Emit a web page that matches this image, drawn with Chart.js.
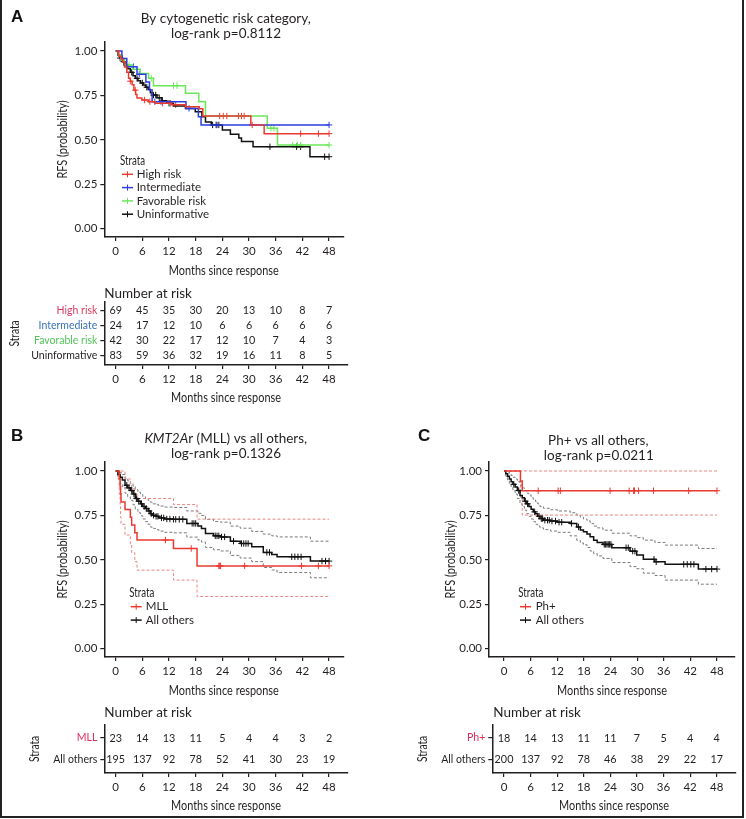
<!DOCTYPE html>
<html>
<head>
<meta charset="utf-8">
<title>RFS by strata</title>
<script src="https://cdn.jsdelivr.net/npm/chart.js@4.4.1/dist/chart.umd.min.js"></script>
<style>
  body { margin: 0; background: #fff; }
  #fig { position: relative; width: 746px; height: 819px; }
  #fig canvas { position: absolute; left: 0; top: 0; }
</style>
</head>
<body>
<div id="fig">
  <canvas id="kmA" width="746" height="819"></canvas>
  <canvas id="riskA" width="746" height="819"></canvas>
  <canvas id="kmB" width="746" height="819"></canvas>
  <canvas id="riskB" width="746" height="819"></canvas>
  <canvas id="kmC" width="746" height="819"></canvas>
  <canvas id="riskC" width="746" height="819"></canvas>
</div>
<script>
// ---- shared ticks
const months = [0, 6, 12, 18, 24, 30, 36, 42, 48];
const probTicks = [0, 0.25, 0.5, 0.75, 1];

// ---- panel A: cytogenetic risk (time in months, RFS after each step)
const highT = [0, 0.7, 1.2, 1.6, 2.0, 2.5, 2.9, 3.3, 3.7, 4.1, 4.5, 4.8, 5.9, 7.4, 8.9, 12.6, 15.7, 18.8, 19.6, 30.4, 33.4, 48];
const highS = [1, 0.97, 0.955, 0.94, 0.91, 0.88, 0.846, 0.83, 0.81, 0.78, 0.755, 0.735, 0.724, 0.715, 0.706, 0.697, 0.686, 0.675, 0.634, 0.584, 0.535, 0.535];
const highCens = [3.3, 4.4, 6.5, 7.7, 10.5, 12.3, 13.5, 23.4, 24.2, 25.0, 27.6, 28.3, 28.9, 30.7, 41.6, 45.6, 48];
const interT = [0, 1.4, 2.5, 4.8, 6.8, 7.6, 8.2, 15.8, 18.6, 19.2, 48];
const interS = [1, 0.958, 0.912, 0.869, 0.826, 0.78, 0.715, 0.677, 0.63, 0.584, 0.584];
const interCens = [1.5, 4.0, 5.3, 8.8, 10.2, 16.5, 22.8, 48];
const favT = [0, 0.6, 1.2, 2.0, 3.8, 5.5, 7.4, 8.5, 15.7, 18.7, 20.2, 34.1, 36.4, 48];
const favS = [1, 0.976, 0.95, 0.921, 0.897, 0.874, 0.846, 0.805, 0.762, 0.715, 0.634, 0.565, 0.471, 0.471];
const favCens = [3.0, 8.0, 13.0, 13.8, 34.9, 35.6, 39.8, 40.9, 41.6, 48];
const uninfT = [0, 0.5, 1.0, 1.5, 2.1, 2.7, 3.3, 3.9, 4.4, 5.0, 5.6, 6.2, 6.7, 7.3, 7.8, 8.2, 9.3, 10.4, 11.5, 13.0, 15.7, 17.9, 19.4, 20.2, 21.5, 24.0, 25.8, 27.7, 28.3, 30.9, 43.7, 48];
const uninfS = [1, 0.976, 0.96, 0.94, 0.92, 0.90, 0.88, 0.86, 0.846, 0.832, 0.82, 0.808, 0.796, 0.784, 0.765, 0.752, 0.737, 0.72, 0.706, 0.69, 0.677, 0.658, 0.63, 0.60, 0.584, 0.555, 0.531, 0.51, 0.49, 0.461, 0.405, 0.405];
const uninfCens = [1.0, 1.8, 2.4, 3.6, 4.8, 6.0, 7.0, 8.5, 9.0, 9.8, 10.5, 12.0, 21.8, 22.6, 23.2, 34.7, 40.7, 41.6, 47.0, 48];

// ---- panel B: KMT2Ar (MLL) vs all others
const mllT = [0, 0.8, 1.0, 1.1, 1.2, 2.1, 3.3, 3.6, 4.3, 4.8, 13.0, 18.3, 48];
const mllS = [1, 0.957, 0.913, 0.87, 0.826, 0.783, 0.739, 0.696, 0.652, 0.611, 0.564, 0.466, 0.466];
const mllUp = [1, 1, 1, 1, 1, 0.955, 0.925, 0.9, 0.872, 0.845, 0.811, 0.729, 0.729];
const mllLo = [1, 0.87, 0.80, 0.74, 0.70, 0.64, 0.59, 0.54, 0.49, 0.442, 0.386, 0.294, 0.294];
const mllCens = [11.2, 17.0, 23.2, 23.4, 23.6, 29.0, 41.8, 45.6, 48];
const othBT = [0, 0.5, 1.0, 1.5, 2.1, 2.7, 3.3, 3.9, 4.4, 5.0, 5.6, 6.1, 6.7, 7.3, 7.8, 8.2, 9.0, 9.7, 11.0, 12.8, 16.0, 18.5, 19.3, 20.2, 22.0, 23.6, 25.8, 28.0, 30.6, 33.2, 35.1, 36.3, 43.8, 48];
const othBS = [1, 0.98, 0.965, 0.95, 0.92, 0.905, 0.89, 0.87, 0.845, 0.83, 0.815, 0.80, 0.789, 0.775, 0.76, 0.751, 0.745, 0.736, 0.73, 0.728, 0.705, 0.69, 0.677, 0.648, 0.635, 0.629, 0.605, 0.592, 0.573, 0.542, 0.53, 0.517, 0.493, 0.493];
const othBUp = [1, 1, 0.99, 0.98, 0.96, 0.945, 0.93, 0.915, 0.895, 0.88, 0.868, 0.855, 0.845, 0.835, 0.825, 0.815, 0.81, 0.803, 0.797, 0.795, 0.775, 0.762, 0.75, 0.728, 0.716, 0.712, 0.69, 0.678, 0.66, 0.645, 0.635, 0.629, 0.605, 0.605];
const othBLo = [1, 0.955, 0.93, 0.91, 0.875, 0.855, 0.835, 0.81, 0.785, 0.765, 0.748, 0.73, 0.715, 0.70, 0.685, 0.677, 0.67, 0.662, 0.655, 0.652, 0.628, 0.612, 0.60, 0.57, 0.557, 0.55, 0.525, 0.51, 0.49, 0.457, 0.443, 0.429, 0.399, 0.399];
const othBCens = [2.5, 3.0, 3.6, 4.1, 4.7, 5.2, 5.8, 6.4, 6.9, 7.5, 8.0, 8.5, 9.1, 9.5, 10.3, 10.8, 11.5, 12.2, 13.0, 13.5, 14.3, 15.1, 17.2, 17.6, 18.0, 22.4, 22.8, 23.2, 23.8, 24.5, 26.5, 28.3, 28.8, 29.3, 29.8, 34.0, 34.6, 39.6, 40.3, 41.0, 41.7, 46.4, 47.2, 48];

// ---- panel C: Ph+ vs all others
const phT = [0, 3.7, 4.1, 48];
const phS = [1, 0.944, 0.889, 0.889];
const phUp = [1, 1, 1, 1];
const phLo = [1, 0.85, 0.752, 0.752];
const phCens = [7.7, 12.2, 12.7, 23.9, 28.2, 29.2, 29.4, 30.3, 33.7, 41.6, 48];
const othCT = [0, 0.4, 0.8, 1.2, 1.6, 2.0, 2.5, 3.0, 3.6, 4.1, 4.6, 5.1, 5.6, 6.1, 6.6, 7.1, 7.6, 8.1, 8.9, 10.5, 12.0, 14.9, 16.4, 17.2, 17.9, 18.7, 19.4, 20.2, 21.0, 22.3, 24.3, 28.4, 29.9, 31.4, 34.0, 36.3, 43.8, 48];
const othCS = [1, 0.985, 0.97, 0.955, 0.94, 0.925, 0.91, 0.89, 0.862, 0.85, 0.83, 0.815, 0.80, 0.785, 0.77, 0.76, 0.745, 0.732, 0.723, 0.718, 0.712, 0.705, 0.685, 0.668, 0.658, 0.645, 0.63, 0.61, 0.598, 0.587, 0.568, 0.549, 0.527, 0.503, 0.489, 0.475, 0.448, 0.448];
const othCUp = [1, 1, 0.995, 0.985, 0.975, 0.965, 0.955, 0.94, 0.92, 0.905, 0.89, 0.875, 0.865, 0.85, 0.838, 0.828, 0.815, 0.80, 0.79, 0.782, 0.775, 0.765, 0.75, 0.74, 0.73, 0.72, 0.705, 0.69, 0.68, 0.667, 0.65, 0.635, 0.625, 0.611, 0.598, 0.583, 0.564, 0.564];
const othCLo = [1, 0.97, 0.95, 0.93, 0.91, 0.89, 0.87, 0.845, 0.815, 0.80, 0.78, 0.76, 0.745, 0.73, 0.715, 0.70, 0.69, 0.68, 0.67, 0.662, 0.655, 0.635, 0.61, 0.595, 0.585, 0.57, 0.55, 0.535, 0.522, 0.508, 0.485, 0.462, 0.45, 0.425, 0.412, 0.386, 0.363, 0.363];
const othCCens = [2.2, 3.3, 4.8, 5.3, 6.9, 7.9, 8.4, 8.7, 9.2, 9.8, 10.2, 10.8, 11.6, 12.4, 13.0, 15.2, 16.8, 22.6, 22.9, 23.2, 23.5, 23.8, 24.1, 27.5, 28.0, 29.0, 29.5, 33.8, 34.3, 40.5, 41.3, 42.1, 42.8, 45.5, 46.8, 48];

// ---- number at risk tables
const strataA = ["High risk", "Intermediate", "Favorable risk", "Uninformative"];
const riskHigh = [69, 45, 35, 30, 20, 13, 10, 8, 7];
const riskInter = [24, 17, 12, 10, 6, 6, 6, 6, 6];
const riskFav = [42, 30, 22, 17, 12, 10, 7, 4, 3];
const riskUninf = [83, 59, 36, 32, 19, 16, 11, 8, 5];
const strataB = ["MLL", "All others"];
const riskMll = [23, 14, 13, 11, 5, 4, 4, 3, 2];
const riskOthB = [195, 137, 92, 78, 52, 41, 30, 23, 19];
const strataC = ["Ph+", "All others"];
const riskPh = [18, 14, 13, 11, 11, 7, 5, 4, 4];
const riskOthC = [200, 137, 92, 78, 46, 38, 29, 22, 17];

// ---- look
const SANS = 'Lato, "Noto Sans", sans-serif';
const INK = "#231f20";
const RED = "#ea3a30", BLUE = "#2b3de3", GREEN = "#6be85a", BLACK = "#111111";
const RED_CI = "#e98585", GREY_CI = "#7a7a7a";
const PAGE_W = 746, PAGE_H = 819;
const SQUEEZE = 0.78; // axis titles use a condensed face in the original

function stepAt(T, S, t) {
  let v = S[0];
  for (let i = 0; i < T.length; i++) if (T[i] <= t) v = S[i];
  return v;
}

function curve(T, S, color) {
  return {
    data: T.map((t, i) => ({ x: t, y: S[i] })),
    borderColor: color, borderWidth: 1.5, stepped: "before",
    pointRadius: 0, fill: false,
  };
}
function band(T, S, color) {
  return Object.assign(curve(T, S, color), { borderWidth: 1, borderDash: [3, 2] });
}
function censor(C, T, S, color) {
  return {
    data: C.map((t) => ({ x: t, y: stepAt(T, S, t) })),
    showLine: false, pointStyle: "cross", pointRadius: 3.2,
    borderColor: color, borderWidth: 1,
  };
}

// condensed text helper
function narrowText(ctx, text, x, y, size, rotate) {
  ctx.save();
  ctx.translate(x, y);
  if (rotate) ctx.rotate(-Math.PI / 2);
  ctx.scale(SQUEEZE, 1);
  ctx.font = size + "px " + SANS;
  ctx.textAlign = "center"; ctx.textBaseline = "middle";
  ctx.fillStyle = INK;
  ctx.fillText(text, 0, 0);
  ctx.restore();
}

// axis titles, placed from the chart's own scales
const axisTitles = {
  id: "axisTitles",
  afterDraw(chart, args, o) {
    const ctx = chart.ctx, xs = chart.scales.x, ys = chart.scales.y;
    if (o.xText) narrowText(ctx, o.xText, (xs.left + xs.right) / 2, xs.top + o.xOffset, 14, false);
    if (o.yText) narrowText(ctx, o.yText, o.yX, (ys.top + ys.bottom) / 2, o.ySize || 14, true);
  },
};

// free text (titles, panel letters) and frame
const panelText = {
  id: "panelText",
  afterDraw(chart, args, opts) {
    const ctx = chart.ctx;
    (opts.items || []).forEach((it) => {
      ctx.save();
      ctx.fillStyle = it.color || INK;
      ctx.textBaseline = it.baseline || "middle";
      ctx.textAlign = "left";
      const segs = it.segs || [{ text: it.text }];
      const fonts = segs.map((s) => (s.italic ? "italic " : "") + (it.weight || "normal") + " " + it.size + "px " + (it.family || SANS));
      const widths = segs.map((s, i) => { ctx.font = fonts[i]; return ctx.measureText(s.text).width; });
      const total = widths.reduce((a, b) => a + b, 0);
      let x = it.align === "left" ? it.x : it.x - total / 2;
      segs.forEach((s, i) => { ctx.font = fonts[i]; ctx.fillText(s.text, x, it.y); x += widths[i]; });
      ctx.restore();
    });
    if (opts.frame) {
      ctx.save();
      ctx.strokeStyle = "#222"; ctx.lineWidth = 2;
      ctx.beginPath();
      ctx.moveTo(1, 0); ctx.lineTo(1, 817); ctx.lineTo(743, 817); ctx.lineTo(743, 0);
      ctx.stroke();
      ctx.restore();
    }
  },
};

const strataLegend = {
  id: "strataLegend",
  afterDatasetsDraw(chart, args, o) {
    if (!o.entries) return;
    const ctx = chart.ctx;
    ctx.save();
    ctx.font = "12.5px " + SANS;
    const w = ctx.measureText("Strata").width * SQUEEZE;
    narrowText(ctx, "Strata", o.x + w / 2, o.y, 12.5, false);
    ctx.textBaseline = "middle"; ctx.textAlign = "left";
    o.entries.forEach((e, i) => {
      const y = o.y + o.gap * (i + 1);
      ctx.strokeStyle = e.color; ctx.lineWidth = 1.5;
      ctx.beginPath(); ctx.moveTo(o.lineX, y); ctx.lineTo(o.lineX + o.lineW, y); ctx.stroke();
      const cx = o.lineX + o.lineW / 2;
      ctx.lineWidth = 1;
      ctx.beginPath(); ctx.moveTo(cx, y - 3); ctx.lineTo(cx, y + 3); ctx.stroke();
      ctx.fillStyle = INK; ctx.font = "11.5px " + SANS;
      ctx.fillText(e.label, o.textX, y);
    });
    ctx.restore();
  },
};

const riskCounts = {
  id: "riskCounts",
  afterDatasetsDraw(chart) {
    const ctx = chart.ctx;
    ctx.save();
    ctx.font = "10.8px " + SANS; ctx.fillStyle = INK;
    ctx.textAlign = "center"; ctx.textBaseline = "middle";
    chart.data.datasets.forEach((ds, di) => {
      chart.getDatasetMeta(di).data.forEach((pt, j) => ctx.fillText(String(ds.data[j].n), pt.x, pt.y));
    });
    ctx.restore();
  },
};

function axisX(min, max) {
  return {
    type: "linear", min: min, max: max,
    afterBuildTicks: (s) => { s.ticks = months.map((v) => ({ value: v })); },
    afterFit: (s) => { s.height = 42; },
    grid: { drawOnChartArea: false, drawTicks: true, tickLength: 4, color: INK, lineWidth: 1.2 },
    border: { display: true, color: INK, width: 1.5 },
    ticks: { font: { family: SANS, size: 11.5 }, color: INK, padding: 3, maxRotation: 0, autoSkip: false },
  };
}

function kmChart(id, area, xr, datasets, texts, legend, yW, yTitleX) {
  return new Chart(document.getElementById(id), {
    type: "line",
    data: { datasets: datasets },
    options: {
      responsive: false, animation: false, events: [], devicePixelRatio: 1,
      layout: { padding: { left: area.left - yW, top: area.top, right: PAGE_W - area.right, bottom: PAGE_H - area.bottom - 42 } },
      scales: {
        x: axisX(xr[0], xr[1]),
        y: {
          type: "linear", min: -0.0467, max: 1.0506,
          afterBuildTicks: (s) => { s.ticks = probTicks.map((v) => ({ value: v })); },
          afterFit: (s) => { s.width = yW; },
          grid: { drawOnChartArea: false, drawTicks: true, tickLength: 4, color: INK, lineWidth: 1.2 },
          border: { display: true, color: INK, width: 1.5 },
          ticks: { font: { family: SANS, size: 11.5 }, color: INK, padding: 3, callback: (v) => Number(v).toFixed(2) },
        },
      },
      plugins: {
        legend: { display: false }, tooltip: { enabled: false },
        panelText: texts, strataLegend: legend,
        axisTitles: { xText: "Months since response", xOffset: 33, yText: "RFS (probability)", yX: yTitleX },
      },
    },
    plugins: [panelText, strataLegend, axisTitles],
  });
}

function riskChart(id, area, xr, names, colors, counts, yW, yTitleX, header) {
  return new Chart(document.getElementById(id), {
    type: "line",
    data: {
      datasets: counts.map((row, r) => ({
        data: months.map((m, j) => ({ x: m, y: r + 1, n: row[j] })),
        showLine: false, pointRadius: 0,
      })),
    },
    options: {
      responsive: false, animation: false, events: [], devicePixelRatio: 1,
      layout: { padding: { left: area.left - yW, top: area.top, right: PAGE_W - area.right, bottom: PAGE_H - area.bottom - 42 } },
      scales: {
        x: axisX(xr[0], xr[1]),
        y: {
          type: "linear", reverse: true, min: 0.4, max: names.length + 0.6,
          afterBuildTicks: (s) => { s.ticks = names.map((n, i) => ({ value: i + 1 })); },
          afterFit: (s) => { s.width = yW; },
          grid: { drawOnChartArea: false, drawTicks: true, tickLength: 4, color: INK, lineWidth: 1.2 },
          border: { display: true, color: INK, width: 1.5 },
          ticks: { font: { family: SANS, size: 10.5 }, padding: 3, color: (c) => colors[c.index], callback: (v) => names[Math.round(v) - 1] },
        },
      },
      plugins: {
        legend: { display: false }, tooltip: { enabled: false },
        panelText: { items: [{ text: "Number at risk", x: header.x, y: header.y, size: 13.5, align: "left" }] },
        axisTitles: { xText: "Months since response", xOffset: 32, yText: "Strata", yX: yTitleX, ySize: 13 },
      },
    },
    plugins: [riskCounts, panelText, axisTitles],
  });
}

const LETTER = '"Liberation Sans", Arial, sans-serif';

// ---- panel A
kmChart("kmA", { left: 104.3, right: 343.3, top: 42, bottom: 237 }, [-2.56, 51.2], [
  curve(highT, highS, RED), curve(interT, interS, BLUE), curve(favT, favS, GREEN), curve(uninfT, uninfS, BLACK),
  censor(highCens, highT, highS, RED), censor(interCens, interT, interS, BLUE),
  censor(favCens, favT, favS, GREEN), censor(uninfCens, uninfT, uninfS, BLACK),
], {
  frame: true,
  items: [
    { text: "A", x: 11, y: 22, size: 17, weight: "bold", family: LETTER, align: "left", baseline: "alphabetic", color: "#111" },
    { text: "B", x: 11, y: 441, size: 17, weight: "bold", family: LETTER, align: "left", baseline: "alphabetic", color: "#111" },
    { text: "C", x: 418, y: 441, size: 17, weight: "bold", family: LETTER, align: "left", baseline: "alphabetic", color: "#111" },
    { text: "By cytogenetic risk category,", x: 225.8, y: 18.3, size: 13.5 },
    { text: "log-rank p=0.8112", x: 226, y: 33.3, size: 13.5 },
  ],
}, {
  x: 120, y: 161, gap: 13.3, lineX: 122, lineW: 11, textX: 136.7,
  entries: strataA.map((s, i) => ({ label: s, color: [RED, BLUE, GREEN, BLACK][i] })),
}, 52, 62.5);

riskChart("riskA", { left: 104.3, right: 347.7, top: 302, bottom: 365 }, [-2.565, 52.2], strataA,
  ["#dd3b5d", "#3a73b6", "#55c45a", INK], [riskHigh, riskInter, riskFav, riskUninf], 100, 15, { x: 104.3, y: 293.3 });

// ---- panel B
kmChart("kmB", { left: 104.3, right: 343.3, top: 462, bottom: 657 }, [-2.56, 51.2], [
  curve(mllT, mllS, RED), curve(othBT, othBS, BLACK),
  censor(mllCens, mllT, mllS, RED), censor(othBCens, othBT, othBS, BLACK),
  band(mllT, mllUp, RED_CI), band(mllT, mllLo, RED_CI),
  band(othBT, othBUp, GREY_CI), band(othBT, othBLo, GREY_CI),
], {
  items: [
    { segs: [{ text: "KMT2A", italic: true }, { text: "r (MLL) vs all others," }], x: 225.8, y: 438.3, size: 13.5 },
    { text: "log-rank p=0.1326", x: 226, y: 453.3, size: 13.5 },
  ],
}, {
  x: 129.3, y: 593.3, gap: 13.4, lineX: 130.7, lineW: 11, textX: 145.7,
  entries: strataB.map((s, i) => ({ label: s, color: [RED, BLACK][i] })),
}, 52, 62.5);

riskChart("riskB", { left: 104.3, right: 347.7, top: 725, bottom: 773 }, [-2.565, 52.2], strataB,
  ["#dd2f5a", INK], [riskMll, riskOthB], 80, 35, { x: 104.3, y: 712.7 });

// ---- panel C
kmChart("kmC", { left: 489, right: 735, top: 462, bottom: 657 }, [-3.39, 52.06], [
  curve(phT, phS, RED), curve(othCT, othCS, BLACK),
  censor(phCens, phT, phS, RED), censor(othCCens, othCT, othCS, BLACK),
  band(phT, phUp, RED_CI), band(phT, phLo, RED_CI),
  band(othCT, othCUp, GREY_CI), band(othCT, othCLo, GREY_CI),
], {
  items: [
    { text: "Ph+ vs all others,", x: 598.3, y: 440.7, size: 13.5 },
    { text: "log-rank p=0.0211", x: 598.8, y: 456, size: 13.5 },
  ],
}, {
  x: 518.3, y: 593.3, gap: 13.4, lineX: 520, lineW: 11, textX: 535.7,
  entries: strataC.map((s, i) => ({ label: s, color: [RED, BLACK][i] })),
}, 49.2, 450);

riskChart("riskC", { left: 492.3, right: 735.7, top: 725, bottom: 773 }, [-2.64, 52.29], strataC,
  ["#dd2f5a", INK], [riskPh, riskOthC], 80, 423.3, { x: 493.3, y: 712.7 });
</script>
</body>
</html>
